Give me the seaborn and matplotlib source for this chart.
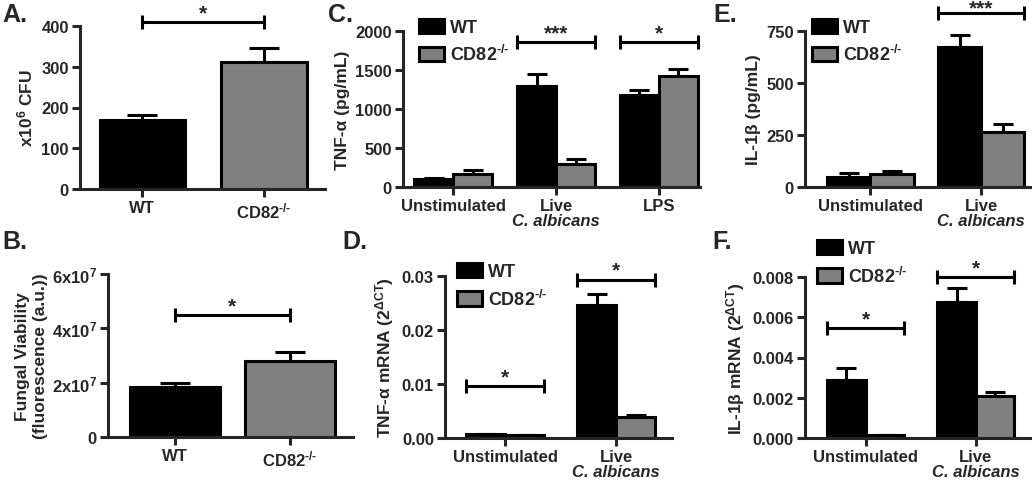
import numpy as np
import pandas as pd
import matplotlib
matplotlib.use("Agg")
import matplotlib.pyplot as plt
import matplotlib.patches as mpatches
import seaborn as sns

# ---------------- data ----------------
genotypes = ["WT", r"CD82$^{\text{-/-}}$"]
colors = ["#000000", "#808080"]

# A: CFU
a_values = [170, 311]
a_errors = [12, 35]
a_sig = [("*", 410)]

# B: fungal viability
b_values = [1.85e7, 2.81e7]
b_errors = [0.14e7, 0.33e7]
b_sig = [("*", 4.49e7)]

# C: TNF-a protein
c_stimuli = ["Unstimulated", "Live", "LPS"]
c_wt = [100, 1291, 1179]
c_wt_err = [10, 158, 68]
c_ko = [165, 295, 1427]
c_ko_err = [50, 64, 86]
c_sig = [(1, "***", 1860), (2, "*", 1860)]

# D: TNF-a mRNA
d_stimuli = ["Unstimulated", "Live"]
d_wt = [0.0007, 0.0246]
d_wt_err = [0.0001, 0.0021]
d_ko = [0.0005, 0.0038]
d_ko_err = [0.0, 0.0004]
d_sig = [(0, "*", 0.0096), (1, "*", 0.0293)]

# E: IL-1b protein
e_stimuli = ["Unstimulated", "Live"]
e_wt = [47, 672]
e_wt_err = [20, 59]
e_ko = [63, 263]
e_ko_err = [12, 40]
e_sig = [(1, "***", 835)]

# F: IL-1b mRNA
f_stimuli = ["Unstimulated", "Live"]
f_wt = [0.0029, 0.00677]
f_wt_err = [0.0006, 0.0007]
f_ko = [0.00015, 0.0021]
f_ko_err = [0.0, 0.00017]
f_sig = [(0, "*", 0.00547), (1, "*", 0.0080)]

# ---------------- style ----------------
sns.set_style("ticks")
plt.rcParams.update({
    "font.family": ["Liberation Sans", "DejaVu Sans"],
    "font.weight": "bold",
    "axes.labelweight": "bold",
    "mathtext.fontset": "custom",
    "mathtext.rm": "Liberation Sans:bold",
    "mathtext.bf": "Liberation Sans:bold",
    "mathtext.it": "Liberation Sans:italic:bold",
    "mathtext.sf": "Liberation Sans:bold",
    "mathtext.default": "rm",
    "axes.linewidth": 2.2,
})

W, H = 1032, 481
fig = plt.figure(figsize=(W / 100, H / 100), dpi=100)


def add_ax(left, right, top, bottom):
    return fig.add_axes([left / W, (H - bottom) / H, (right - left) / W, (bottom - top) / H])


def style_ax(ax, ylim, xlim, yticks, ylabels, ylabel, labelpad=4):
    ax.set_ylim(*ylim)
    ax.set_xlim(*xlim)
    ax.set_yticks(yticks, ylabels)
    sns.despine(ax=ax)
    ax.tick_params(direction="out", length=6, width=2.2, labelsize=12, pad=2)
    for lab in ax.get_xticklabels() + ax.get_yticklabels():
        lab.set_fontweight("bold")
    ax.set_xlabel("")
    ax.set_ylabel(ylabel, fontsize=12.5, fontweight="bold", labelpad=labelpad)


def add_errors(ax, errs, capsize):
    for p, e in zip(ax.patches, errs):
        x = p.get_x() + p.get_width() / 2
        h = p.get_height()
        ax.errorbar([x], [h], yerr=[[0], [e]], fmt="none", ecolor="black",
                    elinewidth=2.2, capsize=capsize, capthick=2.2, zorder=1)


def sig_bar(ax, x0, x1, y, star, dy=0):
    ax.plot([x0, x1], [y, y], color="black", lw=2.2, marker="|", markersize=10,
            mew=2.2, clip_on=False, zorder=5)
    ax.annotate(star, xy=((x0 + x1) / 2, y), xytext=(0, dy), textcoords="offset points",
                ha="center", va="bottom", fontsize=15, fontweight="bold",
                annotation_clip=False)


def simple_panel(ax, values, errors, width, capsize):
    df = pd.DataFrame({"genotype": genotypes, "value": values})
    sns.barplot(data=df, x="genotype", y="value", hue="genotype", hue_order=genotypes,
                palette=colors, width=width, edgecolor="black", linewidth=2.2,
                errorbar=None, legend=False, ax=ax, zorder=2)
    add_errors(ax, errors, capsize)


def grouped_panel(ax, stimuli, wt, wt_err, ko, ko_err, width, capsize, sigs, leg_anchor, dy=0):
    df = pd.DataFrame({
        "stimulus": stimuli * 2,
        "genotype": [genotypes[0]] * len(stimuli) + [genotypes[1]] * len(stimuli),
        "value": list(wt) + list(ko),
    })
    sns.barplot(data=df, x="stimulus", y="value", hue="genotype", hue_order=genotypes,
                order=stimuli, palette=colors, width=width, edgecolor="black",
                linewidth=2.2, errorbar=None, legend=False, ax=ax, zorder=2)
    add_errors(ax, list(wt_err) + list(ko_err), capsize)
    for i, star, y in sigs:
        sig_bar(ax, i - width / 2, i + width / 2, y, star, dy)
    handles = [mpatches.Patch(facecolor=c, edgecolor="black", linewidth=2.2) for c in colors]
    ax.legend(handles, genotypes, loc="upper left", bbox_to_anchor=leg_anchor,
              frameon=False, borderpad=0, borderaxespad=0, handlelength=1.4,
              handleheight=0.85, handletextpad=0.3, labelspacing=0.45,
              prop={"size": 13, "weight": "bold"})


def albicans(ax, i):
    ax.annotate("C. albicans", xy=(i, 0), xycoords=("data", "axes fraction"),
                xytext=(0, -19), textcoords="offset points", ha="center", va="top",
                fontsize=12, fontweight="bold", fontstyle="italic")


# ---------------- panel A ----------------
axA = add_ax(80, 325, 27, 190)
simple_panel(axA, a_values, a_errors, 0.70, 11)
style_ax(axA, (0, 400), (-0.51, 1.50), [0, 100, 200, 300, 400],
         ["0", "100", "200", "300", "400"], r"x10$^{6}$ CFU")
for star, y in a_sig:
    sig_bar(axA, 0, 1, y, star)

# ---------------- panel B ----------------
axB = add_ax(108, 353, 275, 438)
simple_panel(axB, b_values, b_errors, 0.78, 11)
style_ax(axB, (0, 6e7), (-0.58, 1.55), [0, 2e7, 4e7, 6e7],
         ["0", r"2x10$^{7}$", r"4x10$^{7}$", r"6x10$^{7}$"],
         "Fungal Viability\n(fluorescence (a.u.))", labelpad=3)
for star, y in b_sig:
    sig_bar(axB, 0, 1, y, star)

# ---------------- panel C ----------------
axC = add_ax(403, 700, 32, 188)
grouped_panel(axC, c_stimuli, c_wt, c_wt_err, c_ko, c_ko_err, 0.76, 7, c_sig, (0.054, 1.08))
style_ax(axC, (0, 2000), (-0.49, 2.40), [0, 500, 1000, 1500, 2000],
         ["0", "500", "1000", "1500", "2000"], "TNF-α (pg/mL)")
albicans(axC, 1)

# ---------------- panel D ----------------
axD = add_ax(445, 672, 277, 439)
grouped_panel(axD, d_stimuli, d_wt, d_wt_err, d_ko, d_ko_err, 0.70, 7, d_sig, (0.053, 1.08))
style_ax(axD, (0, 0.03), (-0.54, 1.50), [0, 0.01, 0.02, 0.03],
         ["0.00", "0.01", "0.02", "0.03"], r"TNF-α mRNA (2$^{\Delta CT}$)")
albicans(axD, 1)

# ---------------- panel E ----------------
axE = add_ax(805, 1030, 32, 188)
grouped_panel(axE, e_stimuli, e_wt, e_wt_err, e_ko, e_ko_err, 0.78, 7, e_sig, (0.031, 1.08), dy=-3)
style_ax(axE, (0, 750), (-0.59, 1.44), [0, 250, 500, 750],
         ["0", "250", "500", "750"], "IL-1β (pg/mL)")
albicans(axE, 1)

# ---------------- panel F ----------------
axF = add_ax(805, 1031, 278, 439)
grouped_panel(axF, f_stimuli, f_wt, f_wt_err, f_ko, f_ko_err, 0.70, 7, f_sig, (0.053, 1.23))
style_ax(axF, (0, 0.008), (-0.55, 1.50), [0, 0.002, 0.004, 0.006, 0.008],
         ["0.000", "0.002", "0.004", "0.006", "0.008"], r"IL-1β mRNA (2$^{\Delta CT}$)")
albicans(axF, 1)

# ---------------- panel letters ----------------
for letter, x, y in [("A.", 2, 3), ("B.", 2, 230), ("C.", 328, 3),
                     ("D.", 342, 230), ("E.", 713, 3), ("F.", 712, 230)]:
    fig.text(x / W, 1 - y / H, letter, fontsize=18, fontweight="bold", va="top", ha="left")

fig.savefig("out.png", dpi=100)
